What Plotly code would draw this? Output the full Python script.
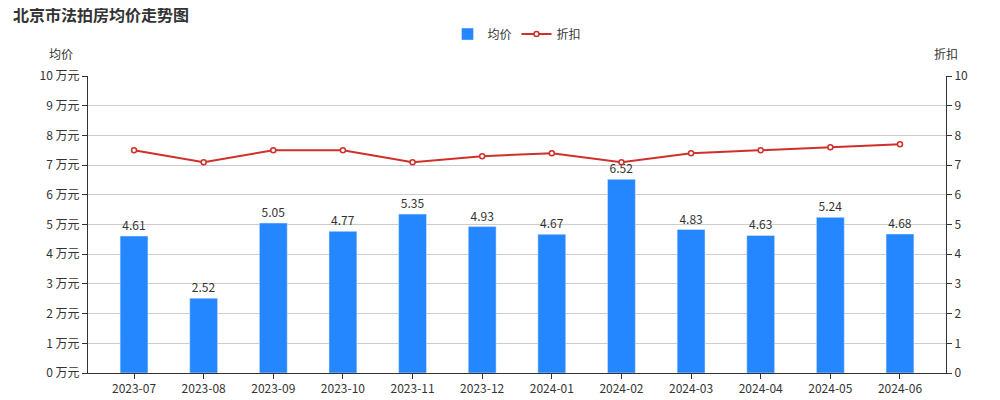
import plotly.graph_objects as go

months = ["2023-07","2023-08","2023-09","2023-10","2023-11","2023-12","2024-01","2024-02","2024-03","2024-04","2024-05","2024-06"]
avg_price = [4.61,2.52,5.05,4.77,5.35,4.93,4.67,6.52,4.83,4.63,5.24,4.68]
discount = [7.5,7.1,7.5,7.5,7.1,7.3,7.4,7.1,7.4,7.5,7.6,7.7]
left_ticks = [f"{i} 万元" for i in range(11)]

fig = go.Figure()
fig.add_bar(x=months, y=avg_price, name="均价", marker_color="#2487FF", width=0.4,
            text=[f"{v:.2f}" for v in avg_price], textposition="outside",
            textfont=dict(size=12, color="#333"), cliponaxis=False)
fig.add_scatter(x=months, y=discount, name="折扣", yaxis="y2", mode="lines+markers",
                line=dict(color="#D0302A", width=2),
                marker=dict(size=5, color="white", line=dict(color="#D0302A", width=1.5)))

fig.update_layout(
    width=1000, height=400, margin=dict(l=80, r=62, t=59, b=33),
    plot_bgcolor="white", paper_bgcolor="white",
    font=dict(family="Noto Sans CJK SC", size=12, color="#333"),
    title=dict(text="<b>北京市法拍房均价走势图</b>", x=0.005, y=0.995, xanchor="left", yanchor="top",
               font=dict(size=16, color="#333")),
    legend=dict(orientation="h", x=0.5, xanchor="center", y=1.19, yanchor="top", font=dict(size=12)),
    showlegend=True,
    xaxis=dict(type="category", showline=True, linecolor="#333", ticks="outside", tickcolor="#333",
               showgrid=False, tickangle=0),
    yaxis=dict(range=[0, 10], tickvals=list(range(11)), ticktext=left_ticks, showline=True,
               linecolor="#333", ticks="outside", tickcolor="#333", gridcolor="#ccc", zeroline=False),
    yaxis2=dict(range=[0, 10], tickvals=list(range(11)), overlaying="y", side="right", showline=True,
                linecolor="#333", ticks="outside", tickcolor="#333", showgrid=False, zeroline=False),
    annotations=[
        dict(text="均价", xref="paper", yref="paper", x=-0.015, y=1.04, xanchor="right", yanchor="bottom", showarrow=False, font=dict(size=12)),
        dict(text="折扣", xref="paper", yref="paper", x=1.0, y=1.04, xanchor="center", yanchor="bottom", showarrow=False, font=dict(size=12)),
    ],
)
fig.write_html("out.html")
